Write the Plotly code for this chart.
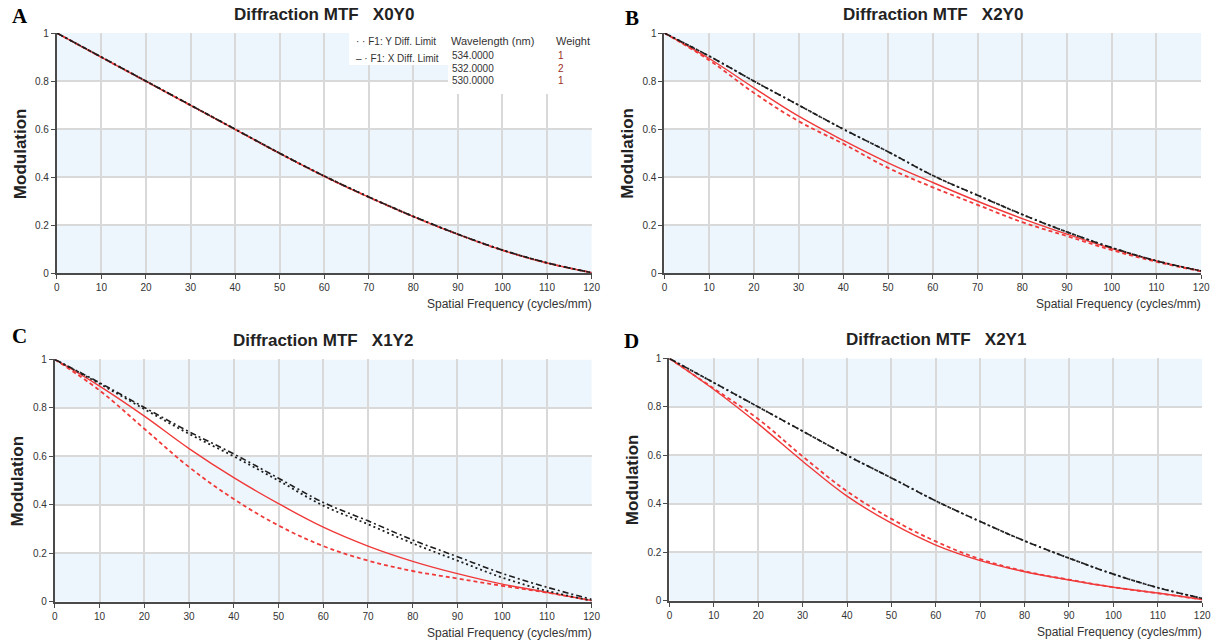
import plotly.graph_objects as go

# ---------------- data ----------------
freq = [0, 10, 20, 30, 40, 50, 60, 70, 80, 90, 100, 110, 120]

# Panel A  (X0Y0)
a_ydiff = [1, 0.900, 0.800, 0.700, 0.600, 0.500, 0.405, 0.318, 0.237, 0.163, 0.097, 0.044, 0.003]
a_xdiff = [1, 0.900, 0.800, 0.700, 0.600, 0.500, 0.405, 0.318, 0.237, 0.163, 0.097, 0.044, 0.003]
a_tan = [1, 0.899, 0.799, 0.699, 0.599, 0.499, 0.404, 0.317, 0.236, 0.162, 0.096, 0.043, 0.003]
a_sag = [1, 0.899, 0.799, 0.699, 0.599, 0.499, 0.404, 0.317, 0.236, 0.162, 0.096, 0.043, 0.003]

# Panel B  (X2Y0)
b_ydiff = [1, 0.904, 0.800, 0.700, 0.600, 0.506, 0.407, 0.325, 0.245, 0.172, 0.107, 0.052, 0.010]
b_xdiff = [1, 0.904, 0.800, 0.700, 0.600, 0.506, 0.407, 0.325, 0.245, 0.172, 0.107, 0.052, 0.010]
b_tan = [1, 0.894, 0.772, 0.654, 0.553, 0.460, 0.378, 0.300, 0.228, 0.163, 0.103, 0.052, 0.010]
b_sag = [1, 0.887, 0.751, 0.633, 0.539, 0.439, 0.358, 0.285, 0.213, 0.155, 0.097, 0.048, 0.008]

# Panel C  (X1Y2)
c_ydiff = [1, 0.900, 0.795, 0.693, 0.600, 0.500, 0.397, 0.320, 0.241, 0.170, 0.100, 0.045, 0.005]
c_xdiff = [1, 0.904, 0.802, 0.702, 0.610, 0.510, 0.410, 0.334, 0.255, 0.186, 0.117, 0.060, 0.010]
c_tan = [1, 0.890, 0.766, 0.632, 0.512, 0.405, 0.308, 0.230, 0.167, 0.116, 0.073, 0.039, 0.005]
c_sag = [1, 0.872, 0.714, 0.556, 0.424, 0.315, 0.230, 0.170, 0.127, 0.096, 0.066, 0.038, 0.005]

# Panel D  (X2Y1)
d_ydiff = [1, 0.900, 0.800, 0.700, 0.600, 0.507, 0.412, 0.327, 0.247, 0.176, 0.110, 0.054, 0.010]
d_xdiff = [1, 0.900, 0.800, 0.700, 0.600, 0.507, 0.412, 0.327, 0.247, 0.176, 0.110, 0.054, 0.010]
d_tan = [1, 0.872, 0.730, 0.576, 0.432, 0.320, 0.230, 0.166, 0.120, 0.086, 0.056, 0.032, 0.005]
d_sag = [1, 0.876, 0.750, 0.596, 0.452, 0.338, 0.245, 0.172, 0.122, 0.087, 0.056, 0.031, 0.005]

panel_titles = ["Diffraction MTF   X0Y0", "Diffraction MTF   X2Y0",
                "Diffraction MTF   X1Y2", "Diffraction MTF   X2Y1"]
panel_letters = ["A", "B", "C", "D"]
x_ticks = [0, 10, 20, 30, 40, 50, 60, 70, 80, 90, 100, 110, 120]
y_ticks = [0, 0.2, 0.4, 0.6, 0.8, 1]
y_ticktext = ["0", "0.2", "0.4", "0.6", "0.8", "1"]
legend_names = ["F1: Y Diff. Limit", "F1: X Diff. Limit"]
wavelengths = ["534.0000", "532.0000", "530.0000"]
weights = ["1", "2", "1"]

# ---------------- layout helpers ----------------
W, H = 1221, 641
SX, SY, OY = 0.9925, 0.98, 5.0   # compensation for the page photo scaling


def px(x):
    return (x / SX) / W


def py(y):
    return 1 - ((y - OY) / SY) / H


# plot areas in target pixels: (left, right, top, bottom)
boxes = [(54, 590, 32, 272), (663, 1201, 32, 272),
         (52, 590, 358, 600), (668, 1202, 357, 599)]

series = [
    (a_ydiff, a_xdiff, a_tan, a_sag),
    (b_ydiff, b_xdiff, b_tan, b_sag),
    (c_ydiff, c_xdiff, c_tan, c_sag),
    (d_ydiff, d_xdiff, d_tan, d_sag),
]

RED = "#f03a3a"
BLK = "#1e1e1e"
BAND = "#eef6fd"
GRID = "#d9d9d9"
TXT = "#333333"
FONT = "Liberation Sans, Arial, sans-serif"

fig = go.Figure()
layout = dict(width=W, height=H, margin=dict(l=0, r=0, t=0, b=0),
              paper_bgcolor="white", plot_bgcolor="white", showlegend=False)
shapes = []
annotations = []

for i, ((l, r, t, b), (yd, xd, tn, sg)) in enumerate(zip(boxes, series)):
    n = "" if i == 0 else str(i + 1)
    xa, ya = "x" + n, "y" + n
    fig.add_trace(go.Scatter(x=freq, y=tn, mode="lines", xaxis=xa, yaxis=ya,
                             line=dict(color=RED, width=1.4, shape="spline", smoothing=1.1)))
    fig.add_trace(go.Scatter(x=freq, y=sg, mode="lines", xaxis=xa, yaxis=ya,
                             line=dict(color=RED, width=1.8, dash="4px,3px", shape="spline",
                                       smoothing=1.1)))
    fig.add_trace(go.Scatter(x=freq, y=yd, mode="lines", xaxis=xa, yaxis=ya,
                             line=dict(color=BLK, width=1.8, dash="2px,3px", shape="spline")))
    fig.add_trace(go.Scatter(x=freq, y=xd, mode="lines", xaxis=xa, yaxis=ya,
                             line=dict(color=BLK, width=1.6, dash="6px,3px,2px,3px", shape="spline")))

    common = dict(showgrid=True, gridcolor=GRID, gridwidth=1.5, zeroline=False,
                  showline=True, linecolor="#4a4a4a", linewidth=2,
                  ticks="outside", ticklen=4, tickcolor="#4a4a4a", tickwidth=1,
                  tickfont=dict(family=FONT, size=10, color=TXT), fixedrange=True)
    layout["xaxis" + n] = dict(domain=[px(l), px(r)], range=[0, 120], anchor=ya,
                               tickvals=x_ticks, **common)
    layout["yaxis" + n] = dict(domain=[py(b), py(t)], range=[0, 1], anchor=xa,
                               tickvals=y_ticks, ticktext=y_ticktext, **common)

    for lo in (0, 0.4, 0.8):
        shapes.append(dict(type="rect", xref=xa + " domain", yref=ya, x0=0, x1=1,
                           y0=lo, y1=lo + 0.2, fillcolor=BAND, line=dict(width=0),
                           layer="below"))

    cx = (l + r) / 2
    annotations.append(dict(text="<b>" + panel_titles[i] + "</b>", x=px(cx), y=py(t - 19),
                            xref="paper", yref="paper", showarrow=False,
                            xanchor="center", yanchor="middle",
                            font=dict(family=FONT, size=17, color="#222")))
    annotations.append(dict(text="<b>Modulation</b>", x=px(l - 37), y=py((t + b) / 2),
                            xref="paper", yref="paper", showarrow=False, textangle=-90,
                            xanchor="center", yanchor="middle",
                            font=dict(family=FONT, size=17, color="#222")))
    annotations.append(dict(text="Spatial Frequency (cycles/mm)", x=px(r + 2), y=py(b + 31),
                            xref="paper", yref="paper", showarrow=False,
                            xanchor="right", yanchor="middle",
                            font=dict(family=FONT, size=12, color=TXT)))

letter_pos = [(17, 15), (630, 17), (17, 335), (630, 340)]
for letter, (lx, ly) in zip(panel_letters, letter_pos):
    annotations.append(dict(text="<b>" + letter + "</b>", x=px(lx), y=py(ly),
                            xref="paper", yref="paper", showarrow=False,
                            xanchor="center", yanchor="middle",
                            font=dict(family="Liberation Serif, Times New Roman, serif",
                                      size=21, color="black")))

# legend box in panel A
shapes.append(dict(type="rect", xref="paper", yref="paper", x0=px(347), x1=px(447),
                   y0=py(64), y1=py(29), fillcolor="white", line=dict(width=0)))
shapes.append(dict(type="rect", xref="paper", yref="paper", x0=px(446), x1=px(602),
                   y0=py(93), y1=py(29), fillcolor="white", line=dict(width=0)))
lg_font = dict(family=FONT, size=10, color=TXT)
hd_font = dict(family=FONT, size=11, color=TXT)
annotations.append(dict(text="· · " + legend_names[0], x=px(352), y=py(40), xref="paper",
                        yref="paper", showarrow=False, xanchor="left", yanchor="middle",
                        font=lg_font))
annotations.append(dict(text="– · " + legend_names[1], x=px(352), y=py(57), xref="paper",
                        yref="paper", showarrow=False, xanchor="left", yanchor="middle",
                        font=lg_font))
annotations.append(dict(text="Wavelength (nm)", x=px(447), y=py(40), xref="paper",
                        yref="paper", showarrow=False, xanchor="left", yanchor="middle",
                        font=hd_font))
annotations.append(dict(text="Weight", x=px(552), y=py(40), xref="paper",
                        yref="paper", showarrow=False, xanchor="left", yanchor="middle",
                        font=hd_font))
for k, (wl, wt) in enumerate(zip(wavelengths, weights)):
    yy = 54.5 + k * 12.5
    annotations.append(dict(text=wl, x=px(448), y=py(yy), xref="paper", yref="paper",
                            showarrow=False, xanchor="left", yanchor="middle",
                            font=lg_font))
    annotations.append(dict(text=wt, x=px(554), y=py(yy), xref="paper", yref="paper",
                            showarrow=False, xanchor="left", yanchor="middle",
                            font=dict(family=FONT, size=10, color="#9a2a1a")))

layout["shapes"] = shapes
layout["annotations"] = annotations
fig.update_layout(**layout)
fig.write_html("out.html", config={"displayModeBar": False},
               post_script="document.body.style.margin='0';document.body.style.overflow='hidden';")
